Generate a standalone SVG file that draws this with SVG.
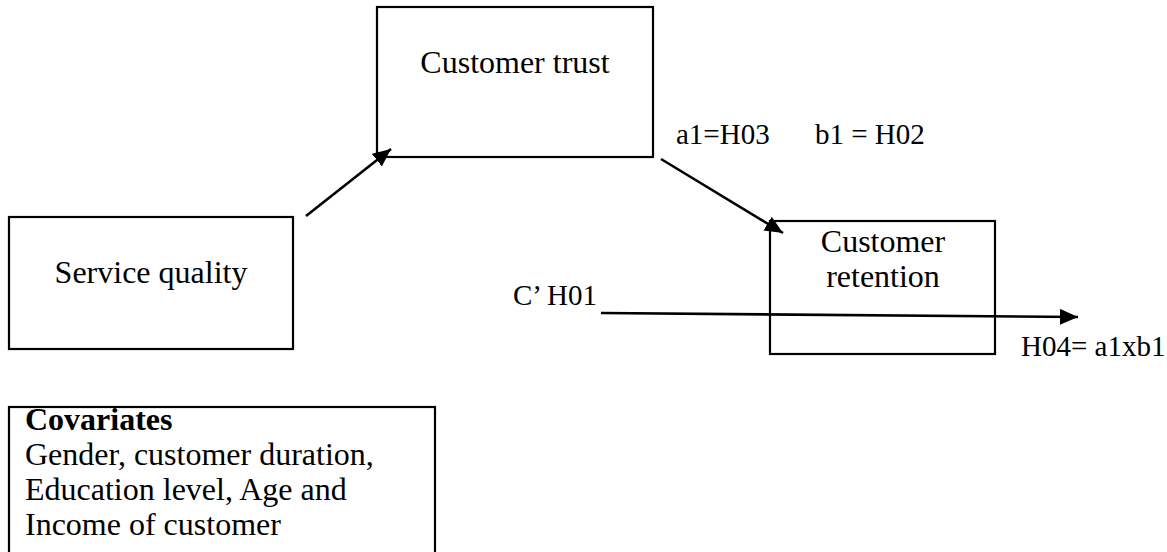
<svg xmlns="http://www.w3.org/2000/svg" width="1167" height="552" viewBox="0 0 1167 552">
  <style>
    .box { fill: #ffffff; stroke: #000000; stroke-width: 2.2; }
    .t { font-family: "Liberation Serif", "Times New Roman", serif; fill: #000000; }
    .big { font-size: 32px; }
    .lbl { font-size: 29px; }
    .conn { stroke: #000000; stroke-width: 2.6; fill: none; marker-end: url(#arrow); }
  </style>
  <defs>
    <marker id="arrow" markerUnits="userSpaceOnUse" markerWidth="20" markerHeight="18" refX="18" refY="8" orient="auto">
      <path d="M0,0 L18,8 L0,16 z" fill="#000000"/>
    </marker>
  </defs>
  <rect width="1167" height="552" fill="#ffffff"/>

  <g id="node-customer-trust">
    <rect class="box" x="377" y="7" width="276" height="150"/>
    <text class="t big" x="515" y="73" text-anchor="middle">Customer trust</text>
  </g>

  <g id="node-service-quality">
    <rect class="box" x="9" y="217" width="284" height="132"/>
    <text class="t big" x="151" y="283" text-anchor="middle">Service quality</text>
  </g>

  <g id="node-customer-retention">
    <rect class="box" x="770" y="221" width="225" height="133"/>
    <text class="t big" x="883" y="252" text-anchor="middle">Customer</text>
    <text class="t big" x="883" y="287" text-anchor="middle">retention</text>
  </g>

  <g id="node-covariates">
    <rect class="box" x="9" y="407" width="426" height="160"/>
    <text class="t big" x="25" y="430" font-weight="bold">Covariates</text>
    <text class="t big" x="25" y="465">Gender, customer duration,</text>
    <text class="t big" x="25" y="500">Education level, Age and</text>
    <text class="t big" x="25" y="535">Income of customer</text>
  </g>

  <g id="connectors">
    <line class="conn" x1="306" y1="216" x2="391" y2="149"/>
    <line class="conn" x1="661" y1="159" x2="783" y2="233"/>
    <line class="conn" x1="601" y1="313" x2="1078" y2="317"/>
  </g>

  <g id="labels">
    <text class="t lbl" x="676" y="144">a1=H03</text>
    <text class="t lbl" x="815" y="144">b1 = H02</text>
    <text class="t lbl" x="513" y="305">C’ H01</text>
    <text class="t lbl" x="1021" y="356">H04= a1xb1</text>
  </g>
</svg>
